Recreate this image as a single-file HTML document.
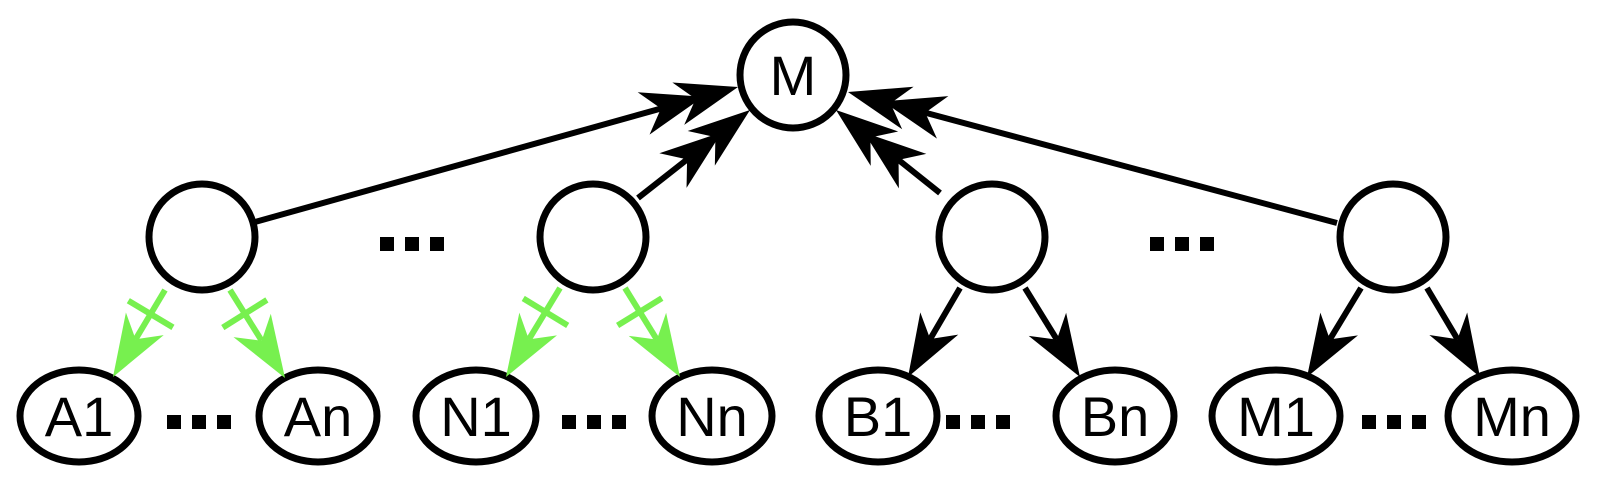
<!DOCTYPE html>
<html><head><meta charset="utf-8"><style>
html,body{margin:0;padding:0;background:#fff;}
svg{display:block;}
text{font-family:"Liberation Sans",sans-serif;font-size:56px;fill:#000;text-anchor:middle;}
</style></head><body>
<svg id="s" width="1600" height="500" viewBox="0 0 1600 500" xmlns="http://www.w3.org/2000/svg">
<g fill="#fff" stroke="#000" stroke-width="7">
<circle cx="793" cy="75" r="53"/>
<circle cx="202" cy="237" r="53"/>
<circle cx="593" cy="237" r="53"/>
<circle cx="992" cy="237" r="53"/>
<circle cx="1393" cy="237" r="53"/>
<ellipse cx="79" cy="416" rx="59" ry="46"/>
<ellipse cx="318" cy="416" rx="59" ry="46"/>
<ellipse cx="476" cy="416" rx="60" ry="46"/>
<ellipse cx="712" cy="416" rx="60" ry="46"/>
<ellipse cx="878" cy="416" rx="59" ry="46"/>
<ellipse cx="1115" cy="416" rx="59" ry="46"/>
<ellipse cx="1276" cy="416" rx="64" ry="46"/>
<ellipse cx="1512" cy="416" rx="64" ry="46"/>
</g>
<text x="793" y="95">M</text>
<text x="79" y="436">A1</text>
<text x="318" y="436">An</text>
<text x="476" y="436">N1</text>
<text x="712" y="436">Nn</text>
<text x="878" y="436">B1</text>
<text x="1115" y="436">Bn</text>
<text x="1276" y="436">M1</text>
<text x="1512" y="436">Mn</text>
<g fill="#000">
<rect x="380" y="237" width="14" height="14"/><rect x="405" y="237" width="14" height="14"/><rect x="430" y="237" width="14" height="14"/>
<rect x="1150" y="237" width="14" height="14"/><rect x="1175" y="237" width="14" height="14"/><rect x="1200" y="237" width="14" height="14"/>
<rect x="167" y="415" width="14" height="14"/><rect x="192" y="415" width="14" height="14"/><rect x="217" y="415" width="14" height="14"/>
<rect x="562" y="415" width="14" height="14"/><rect x="587" y="415" width="14" height="14"/><rect x="612" y="415" width="14" height="14"/>
<rect x="946" y="415" width="14" height="14"/><rect x="971" y="415" width="14" height="14"/><rect x="996" y="415" width="14" height="14"/>
<rect x="1362" y="415" width="14" height="14"/><rect x="1387" y="415" width="14" height="14"/><rect x="1412" y="415" width="14" height="14"/>
</g>
<g id="arrows"></g>
</svg>
<script>
var g=document.getElementById('arrows'),NS="http://www.w3.org/2000/svg";
function el(t,a,p){var e=document.createElementNS(NS,t);for(var k in a)e.setAttribute(k,a[k]);(p||g).appendChild(e);return e;}
function arrow(x1,y1,x2,y2,col,dbl,cross){
 var ang=Math.atan2(y2-y1,x2-x1)*180/Math.PI,L=Math.hypot(x2-x1,y2-y1);
 var grp=el('g',{transform:'translate('+x2+','+y2+') rotate('+ang+')'});
 el('line',{x1:-L,y1:0,x2:-44,y2:0,stroke:col,'stroke-width':6},grp);
 var head='0,0 -62,-22 -44,0 -62,22';
 el('polygon',{points:head,fill:col},grp);
 if(dbl){el('polygon',{points:head,fill:col,transform:'translate(-36,0)'},grp);}
 if(cross){el('line',{x1:-L+28,y1:-26,x2:-L+28,y2:26,stroke:col,'stroke-width':6},grp);}
}
var k='#000',gr='#77f04f';
arrow(255,222,738,87,k,1);
arrow(638,198,750,110,k,1);
arrow(940,193,836,110,k,1);
arrow(1337,223,848,92,k,1);
arrow(165,290,113,377,gr,0,1);
arrow(230,290,285,378,gr,0,1);
arrow(560,288,506,377,gr,0,1);
arrow(625,288,680,377,gr,0,1);
arrow(960,288,908,377,k);
arrow(1025,288,1080,377,k);
arrow(1361,288,1307,377,k);
arrow(1427,288,1480,377,k);
</script>
</body></html>
